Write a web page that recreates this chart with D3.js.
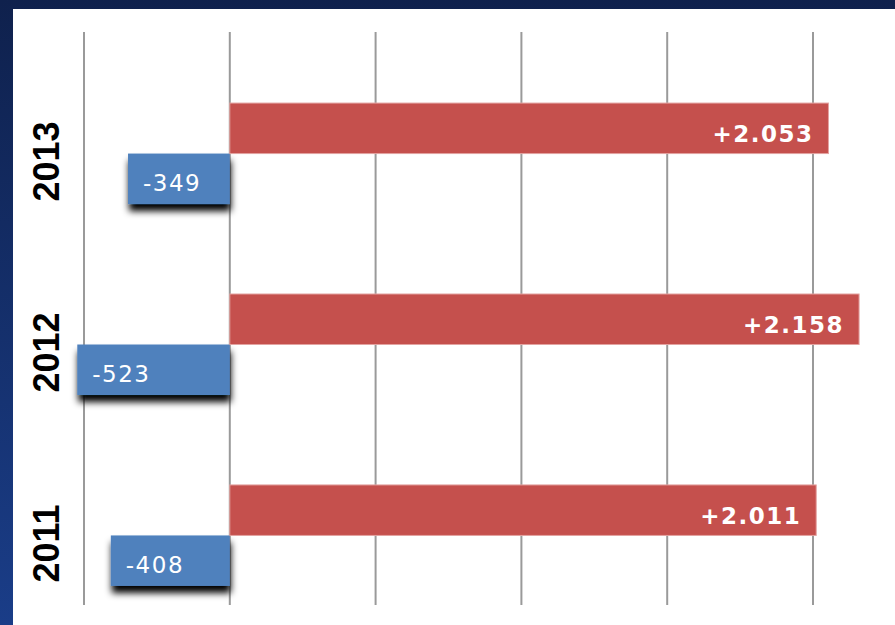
<!DOCTYPE html>
<html>
<head>
<meta charset="utf-8">
<script src="https://cdn.jsdelivr.net/npm/d3@7/dist/d3.min.js"></script>
<style>
  html, body { margin: 0; padding: 0; background: #ffffff; }
  svg { display: block; }
</style>
</head>
<body>
<svg id="chart" width="895" height="625"></svg>
<script>
// ---- data ----
const years = ["2013", "2012", "2011"];
const increases = [2053, 2158, 2011];
const decreases = [-349, -523, -408];
const gridValues = [-500, 0, 500, 1000, 1500, 2000];

const W = 895, H = 625;
const svg = d3.select("#chart");

// background frame
const defs = svg.append("defs");
const grad = defs.append("linearGradient").attr("id", "frameGrad")
  .attr("x1", 0).attr("y1", 0).attr("x2", 0).attr("y2", 1);
grad.append("stop").attr("offset", "0%").attr("stop-color", "#0f214d");
grad.append("stop").attr("offset", "100%").attr("stop-color", "#1a3d88");

const shadow = defs.append("filter").attr("id", "shadow")
  .attr("x", "-20%").attr("y", "-20%").attr("width", "140%").attr("height", "170%");
shadow.append("feDropShadow")
  .attr("dx", 1).attr("dy", 7).attr("stdDeviation", 3.5)
  .attr("flood-color", "#000").attr("flood-opacity", 1);

svg.append("rect").attr("x", 0).attr("y", 0).attr("width", W).attr("height", H)
  .attr("fill", "url(#frameGrad)");
svg.append("rect").attr("x", 13).attr("y", 9).attr("width", W - 13).attr("height", H - 9)
  .attr("fill", "#ffffff");

// scales
const x = d3.scaleLinear().domain([-500, 2000]).range([84, 813]);
const y = d3.scaleBand().domain(years).range([58, 631])
  .paddingInner(0.471).paddingOuter(0.236);
const sub = d3.scaleBand().domain(["inc", "dec"]).range([0, y.bandwidth()]);

// gridlines
svg.append("g").selectAll("line").data(gridValues).join("line")
  .attr("x1", d => x(d)).attr("x2", d => x(d))
  .attr("y1", 32).attr("y2", 605)
  .attr("stroke", "#9a9a9a").attr("stroke-width", 2);

const rows = years.map((yr, i) => ({ yr, inc: increases[i], dec: decreases[i] }));

// decrease bars (blue) with shadow
svg.append("g").selectAll("rect").data(rows).join("rect")
  .attr("x", d => x(d.dec))
  .attr("y", d => y(d.yr) + sub("dec"))
  .attr("width", d => x(0) - x(d.dec))
  .attr("height", sub.bandwidth())
  .attr("fill", "#4f81bd")
  .attr("filter", "url(#shadow)");

// increase bars (red)
svg.append("g").selectAll("rect").data(rows).join("rect")
  .attr("x", x(0))
  .attr("y", d => y(d.yr) + sub("inc"))
  .attr("width", d => x(d.inc) - x(0))
  .attr("height", sub.bandwidth())
  .attr("fill", "#c5504d")
  .attr("stroke", "#e3a3a1").attr("stroke-width", 1);

const fmt = v => {
  const s = d3.format(",")(Math.abs(v)).replace(/,/g, ".");
  return (v > 0 ? "+" : "-") + s;
};

// labels for increases
svg.append("g").selectAll("text").data(rows).join("text")
  .attr("x", d => x(d.inc) - 15)
  .attr("y", d => y(d.yr) + sub("inc") + sub.bandwidth() / 2 + 14)
  .attr("text-anchor", "end")
  .attr("fill", "#ffffff")
  .attr("font-family", "DejaVu Sans, Verdana, sans-serif")
  .attr("font-weight", "bold")
  .attr("font-size", 23)
  .attr("letter-spacing", 1.5)
  .text(d => fmt(d.inc));

// labels for decreases
svg.append("g").selectAll("text").data(rows).join("text")
  .attr("x", d => x(d.dec) + 15)
  .attr("y", d => y(d.yr) + sub("dec") + sub.bandwidth() / 2 + 12)
  .attr("text-anchor", "start")
  .attr("fill", "#ffffff")
  .attr("font-family", "DejaVu Sans, Verdana, sans-serif")
  .attr("font-size", 23)
  .attr("letter-spacing", 1.5)
  .text(d => fmt(d.dec));

// year labels (rotated)
svg.append("g").selectAll("text").data(years).join("text")
  .attr("transform", d => `translate(59, ${y(d) + y.bandwidth() / 2 + 8}) rotate(-90)`)
  .attr("text-anchor", "middle")
  .attr("fill", "#000000")
  .attr("font-family", "Liberation Sans, Arial, sans-serif")
  .attr("font-weight", "bold")
  .attr("font-size", 36)
  .text(d => d);
</script>
</body>
</html>
